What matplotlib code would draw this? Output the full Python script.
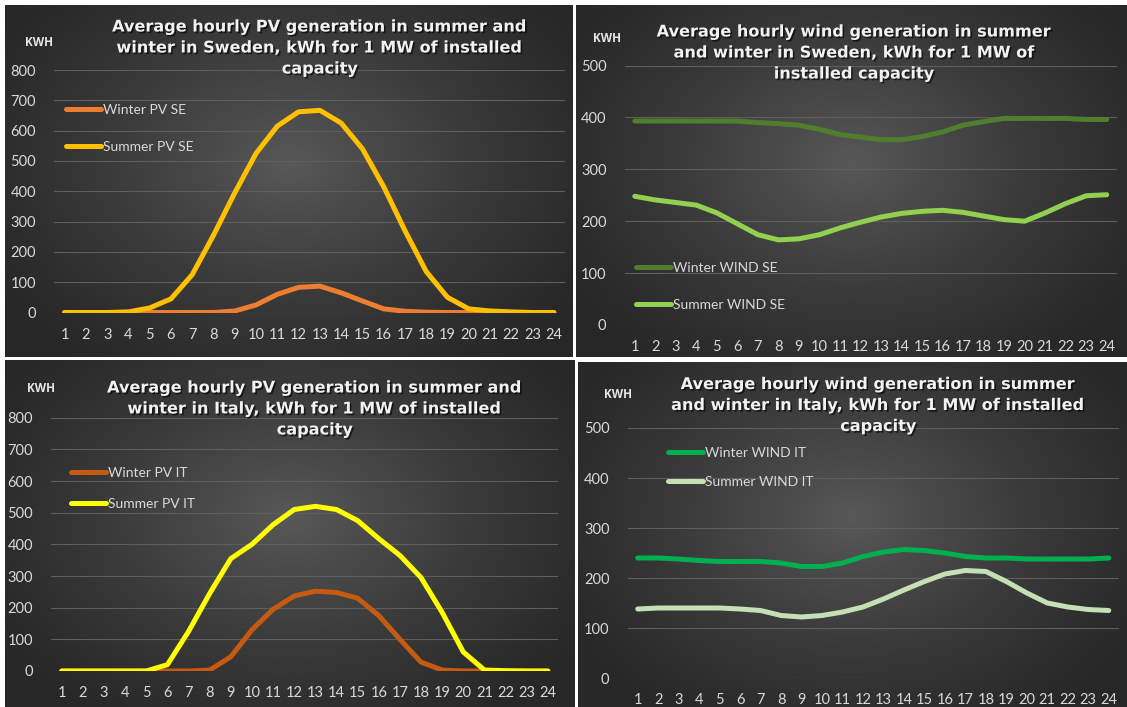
import matplotlib
matplotlib.use("Agg")
import matplotlib.pyplot as plt
import matplotlib.patheffects as pe
import numpy as np

W, H = 1127, 707

hours = list(range(1, 25))

# Sweden PV, kWh per MW installed
winter_pv_se = [0, 0, 0, 0, 0, 0, 0, 0, 5, 25, 60, 83, 87, 65, 38, 12, 4, 1, 0, 0, 0, 0, 0, 0]
summer_pv_se = [0, 0, 0, 2, 15, 45, 125, 255, 395, 525, 615, 662, 667, 625, 540, 415, 270, 135, 50, 12, 5, 2, 0, 0]

# Sweden wind
winter_wind_se = [393, 393, 393, 393, 393, 393, 390, 388, 385, 377, 367, 362, 357, 357, 363, 372, 385, 392, 398, 398, 398, 398, 396, 396]
summer_wind_se = [248, 241, 236, 231, 216, 195, 174, 164, 166, 174, 187, 198, 208, 215, 219, 221, 217, 210, 203, 200, 216, 234, 249, 251]

# Italy PV
winter_pv_it = [0, 0, 0, 0, 0, 0, 0, 3, 45, 130, 195, 237, 252, 248, 230, 175, 100, 28, 3, 0, 0, 0, 0, 0]
summer_pv_it = [0, 0, 0, 0, 0, 20, 125, 245, 355, 400, 462, 510, 520, 510, 475, 418, 365, 295, 185, 60, 3, 1, 0, 0]

# Italy wind
winter_wind_it = [240, 240, 238, 235, 233, 233, 233, 230, 223, 223, 230, 243, 252, 257, 255, 250, 243, 240, 240, 238, 238, 238, 238, 240]
summer_wind_it = [138, 140, 140, 140, 140, 138, 135, 125, 122, 125, 132, 142, 158, 176, 193, 208, 215, 213, 193, 170, 150, 142, 137, 135]

panels = [
    dict(title="Average hourly PV generation in summer and\nwinter in Sweden, kWh for 1 MW of installed\ncapacity",
         frame=(5, 5, 573, 357), plot=(54, 70, 564.5, 312.5), title_xy=(320, 48), kwh_xy=(38.5, 42),
         ymax=800, step=100,
         series=[("Winter PV SE", winter_pv_se, "#ED7D31"), ("Summer PV SE", summer_pv_se, "#FFC000")],
         leg_xy=(66, 104), leg_gap=1.82),
    dict(title="Average hourly wind generation in summer\nand winter in Sweden, kWh for 1 MW of\ninstalled capacity",
         frame=(576, 5, 1127, 357), plot=(624.5, 65.5, 1117, 325), title_xy=(854.5, 53), kwh_xy=(606.5, 38),
         ymax=500, step=100,
         series=[("Winter WIND SE", winter_wind_se, "#4F7F2E"), ("Summer WIND SE", summer_wind_se, "#92D050")],
         leg_xy=(636, 262), leg_gap=1.78),
    dict(title="Average hourly PV generation in summer and\nwinter in Italy, kWh for 1 MW of installed\ncapacity",
         frame=(5, 360, 574, 707), plot=(51.2, 417.7, 558.4, 671), title_xy=(315, 409), kwh_xy=(40.5, 388.5),
         ymax=800, step=100,
         series=[("Winter PV IT", winter_pv_it, "#C55A11"), ("Summer PV IT", summer_pv_it, "#FFFF00")],
         leg_xy=(71, 467), leg_gap=1.34),
    dict(title="Average hourly wind generation in summer\nand winter in Italy, kWh for 1 MW of installed\ncapacity",
         frame=(578, 362, 1127, 707), plot=(627.5, 428, 1119, 678), title_xy=(878.5, 405.5), kwh_xy=(618, 395),
         ymax=500, step=100,
         series=[("Winter WIND IT", winter_wind_it, "#00B050"), ("Summer WIND IT", summer_wind_it, "#C5E0B4")],
         leg_xy=(668, 447), leg_gap=1.22),
]


def fbox(x0, y0, x1, y1):
    return [x0 / W, 1 - y1 / H, (x1 - x0) / W, (y1 - y0) / H]


def gradient(w, h):
    yy, xx = np.mgrid[0:h, 0:w]
    cx, cy = w * 0.5, h * 0.45
    r = np.sqrt(((xx - cx) / (w * 0.62)) ** 2 + ((yy - cy) / (h * 0.72)) ** 2)
    r = np.clip(r, 0, 1)
    v = 0.155 + (0.345 - 0.155) * (1 - r) ** 1.3
    return np.dstack([v, v, v])


plt.rcParams["font.family"] = ["Lato", "DejaVu Sans"]

fig = plt.figure(figsize=(W / 100, H / 100), dpi=100, facecolor="white")

for p in panels:
    x0, y0, x1, y1 = p["frame"]
    bg = fig.add_axes(fbox(x0, y0, x1, y1))
    bg.imshow(gradient(int(x1 - x0), int(y1 - y0)), aspect="auto", interpolation="bilinear")
    bg.axis("off")

    ax = fig.add_axes(fbox(*p["plot"]))
    ax.set_facecolor("none")
    for name, vals, col in p["series"]:
        ax.plot(hours, vals, color=col, lw=3.6, solid_joinstyle="round",
                solid_capstyle="round", label=name, zorder=3)
    ax.set_xlim(0.5, 24.5)
    ax.set_ylim(0, p["ymax"])
    ax.set_xticks(hours)
    ax.set_yticks(np.arange(0, p["ymax"] + 1, p["step"]))
    ax.grid(axis="y", color="#5E5E5E", lw=0.8, zorder=1)
    ax.tick_params(length=0, colors="#D9D9D9", labelsize=10.5)
    ax.tick_params(axis="x", pad=11)
    ax.tick_params(axis="y", pad=13)
    for s in ax.spines.values():
        s.set_visible(False)

    lx, ly = p["leg_xy"]
    leg = ax.legend(loc="upper left", bbox_to_anchor=(lx / W, 1 - ly / H),
                    bbox_transform=fig.transFigure, frameon=False,
                    handlelength=2.5, handletextpad=0.15, labelspacing=p["leg_gap"],
                    fontsize=10, borderaxespad=0, borderpad=0)
    for t in leg.get_texts():
        t.set_color("#D9D9D9")

    tx, ty = p["title_xy"]
    fig.text(tx / W, 1 - ty / H, p["title"], ha="center", va="center",
             multialignment="center", fontsize=11.6, fontweight="bold",
             family=["DejaVu Sans"], color="#F2F2F2", linespacing=1.5,
             path_effects=[pe.withSimplePatchShadow(offset=(1.2, -1.2), shadow_rgbFace="black", alpha=0.6)])

    kx, ky = p["kwh_xy"]
    fig.text(kx / W, 1 - ky / H, "KWH", ha="center", va="center",
             fontsize=8.5, fontweight="bold", color="#E6E6E6",
             family=["Open Sans", "DejaVu Sans"])

fig.savefig("out.png", dpi=100, facecolor="white")
